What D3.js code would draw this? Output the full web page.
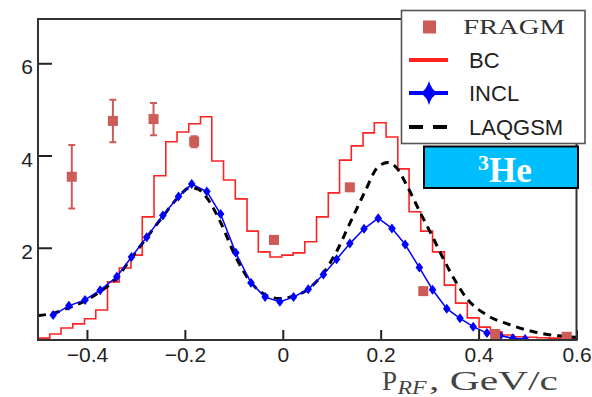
<!DOCTYPE html>
<html><head><meta charset="utf-8">
<script src="https://cdn.jsdelivr.net/npm/d3@7"></script>
<style>body{margin:0;background:#fff}svg{display:block}</style>
</head><body>
<svg id="c" width="592" height="397"></svg>
<script>
// ---- data ----
const xTicks = [-0.4, -0.2, 0, 0.2, 0.4, 0.6];
const yTicks = [2, 4, 6];

// BC histogram: bin edges and bin heights
const bcEdges = [-0.500,-0.476,-0.453,-0.429,-0.405,-0.382,-0.358,-0.334,-0.310,-0.287,
  -0.263,-0.239,-0.216,-0.192,-0.168,-0.145,-0.121,-0.097,-0.073,-0.050,
  -0.026,-0.002,0.021,0.045,0.069,0.093,0.116,0.140,0.164,0.187,
  0.211,0.235,0.258,0.282,0.306,0.330,0.353,0.377,0.401,0.424,
  0.448,0.472,0.495,0.519,0.543,0.567,0.600];
const bcValues = [0.04,0.13,0.26,0.35,0.46,0.65,1.26,1.56,1.84,2.67,
  3.56,4.30,4.51,4.69,4.84,3.88,3.47,3.06,2.36,1.91,
  1.80,1.84,1.89,2.13,2.67,3.19,3.90,4.21,4.49,4.71,
  4.40,3.71,2.78,2.36,1.91,1.19,0.80,0.48,0.28,0.17,
  0.11,0.07,0.06,0.05,0.04,0.03];

// INCL
const inclX = [-0.469,-0.437,-0.404,-0.373,-0.339,-0.309,-0.278,-0.245,-0.213,-0.186,
  -0.155,-0.127,-0.096,-0.065,-0.036,-0.006,0.022,0.052,0.083,0.110,
  0.137,0.166,0.195,0.223,0.250,0.279,0.306,0.335,0.362,0.389,
  0.417,0.444,0.470,0.495];
const inclY = [0.54,0.74,0.87,1.08,1.37,1.80,2.23,2.70,3.11,3.38,
  3.22,2.73,1.89,1.24,0.93,0.83,0.93,1.10,1.42,1.75,
  2.09,2.41,2.64,2.42,2.07,1.57,1.09,0.68,0.47,0.29,
  0.15,0.09,0.04,0.02];

// LAQGSM
const laqX = [-0.500,-0.469,-0.437,-0.404,-0.373,-0.339,-0.309,-0.278,-0.245,-0.213,
  -0.190,-0.175,-0.155,-0.127,-0.096,-0.065,-0.036,-0.006,0.022,0.049,
  0.083,0.110,0.137,0.168,0.192,0.215,0.235,0.253,0.280,0.305,
  0.330,0.345,0.376,0.417,0.464,0.512,0.563,0.600];
const laqY = [0.53,0.58,0.70,0.85,1.05,1.35,1.78,2.22,2.68,3.10,
  3.30,3.28,3.08,2.55,1.80,1.25,0.98,0.90,0.95,1.08,
  1.45,1.92,2.53,3.22,3.72,3.85,3.70,3.36,2.78,2.26,
  1.72,1.42,0.90,0.54,0.33,0.18,0.09,0.06];

// FRAGM data with errors
const fragmX = [-0.431,-0.347,-0.264,-0.181,-0.018,0.137,0.287,0.434,0.580];
const fragmY = [3.54,4.75,4.79,4.30,2.17,3.31,1.06,0.13,0.07];
const fragmErr = [0.69,0.46,0.35,0.12,0.08,0.05,0.05,0.03,0.03];

const legendLabels = ["FRAGM","BC","INCL","LAQGSM"];

// ---- drawing ----
const svg = d3.select("#c");
const x = d3.scaleLinear().domain([-0.5, 0.6]).range([38, 576.5]);
const y = d3.scaleLinear().domain([0, 6.96]).range([340, 19]);
const fragColor = "#cd5c58";

svg.append("defs").append("clipPath").attr("id","clip")
  .append("rect").attr("x",38).attr("y",19).attr("width",538.5).attr("height",321);

const plot = svg.append("g").attr("clip-path","url(#clip)");

// BC histogram
const bcPts = bcValues.map((v,i)=>[bcEdges[i], v]);
bcPts.push([bcEdges[bcEdges.length-1], bcValues[bcValues.length-1]]);
plot.append("path")
  .attr("d", d3.line().x(d=>x(d[0])).y(d=>y(d[1])).curve(d3.curveStepAfter)(bcPts))
  .attr("fill","none").attr("stroke","#ff2222").attr("stroke-width",1.6);

// LAQGSM dashed
plot.append("path")
  .attr("d", d3.line().x((d,i)=>x(laqX[i])).y(d=>y(d)).curve(d3.curveMonotoneX)(laqY))
  .attr("fill","none").attr("stroke","#000").attr("stroke-width",3)
  .attr("stroke-dasharray","8,6");

// INCL
plot.append("path")
  .attr("d", d3.line().x((d,i)=>x(inclX[i])).y(d=>y(d))(inclY))
  .attr("fill","none").attr("stroke","#0000ff").attr("stroke-width",1.5);
plot.selectAll("path.dia").data(inclY).enter().append("path")
  .attr("class","dia")
  .attr("transform",(d,i)=>`translate(${x(inclX[i])},${y(d)})`)
  .attr("d","M0,-5L3.8,0L0,5L-3.8,0Z")
  .attr("fill","#0000ff");

// FRAGM
const fr = plot.selectAll("g.fr").data(fragmY).enter().append("g").attr("class","fr");
fr.append("line")
  .attr("x1",(d,i)=>x(fragmX[i])).attr("x2",(d,i)=>x(fragmX[i]))
  .attr("y1",(d,i)=>y(d+fragmErr[i])).attr("y2",(d,i)=>y(d-fragmErr[i]))
  .attr("stroke",fragColor).attr("stroke-width",2);
fr.append("line")
  .attr("x1",(d,i)=>x(fragmX[i])-3.5).attr("x2",(d,i)=>x(fragmX[i])+3.5)
  .attr("y1",(d,i)=>y(d+fragmErr[i])).attr("y2",(d,i)=>y(d+fragmErr[i]))
  .attr("stroke",fragColor).attr("stroke-width",2);
fr.append("line")
  .attr("x1",(d,i)=>x(fragmX[i])-3.5).attr("x2",(d,i)=>x(fragmX[i])+3.5)
  .attr("y1",(d,i)=>y(d-fragmErr[i])).attr("y2",(d,i)=>y(d-fragmErr[i]))
  .attr("stroke",fragColor).attr("stroke-width",2);
fr.append("rect")
  .attr("x",(d,i)=>x(fragmX[i])-5).attr("y",d=>y(d)-5)
  .attr("width",10).attr("height",10).attr("fill",fragColor);

// Axes
const xAxis = svg.append("g").attr("transform","translate(0,340)")
  .call(d3.axisBottom(x).tickValues(xTicks).tickSize(-10).tickPadding(7)
    .tickFormat(d=> d===0 ? "0" : d3.format(".1f")(d)));
const yAxis = svg.append("g").attr("transform","translate(38,0)")
  .call(d3.axisLeft(y).tickValues(yTicks).tickSize(-14).tickPadding(5)
    .tickFormat(d3.format("d")));
[xAxis,yAxis].forEach(a=>{
  a.select(".domain").remove();
  a.selectAll(".tick line").attr("stroke","#222").attr("stroke-width",2);
  a.selectAll(".tick text").attr("fill","#222")
    .style("font-family","'Liberation Sans', Arial, sans-serif").style("font-size","21px");
});
yAxis.selectAll(".tick text").attr("dy","0.5em");

// Frame
svg.append("rect").attr("x",38).attr("y",19).attr("width",538.5).attr("height",321)
  .attr("fill","none").attr("stroke","#333").attr("stroke-width",2);

// Legend
const lg = svg.append("g");
lg.append("rect").attr("x",401.5).attr("y",10.5).attr("width",183.5).attr("height",133)
  .attr("fill","#fff").attr("stroke","#555").attr("stroke-width",1.6);
const rowY = [27, 60, 93, 127];
lg.append("rect").attr("x",423).attr("y",rowY[0]-6.5).attr("width",13).attr("height",13).attr("fill",fragColor);
lg.append("line").attr("x1",409).attr("x2",448).attr("y1",rowY[1]).attr("y2",rowY[1])
  .attr("stroke","#ff2222").attr("stroke-width",4);
lg.append("line").attr("x1",409).attr("x2",448).attr("y1",rowY[2]).attr("y2",rowY[2])
  .attr("stroke","#0000ff").attr("stroke-width",4);
lg.append("path").attr("transform",`translate(429,${rowY[2]})`)
  .attr("d","M0,-12Q2.5,-3 9,0Q2.5,3 0,12Q-2.5,3 -9,0Q-2.5,-3 0,-12Z").attr("fill","#0000ff");
lg.append("line").attr("x1",409).attr("x2",448).attr("y1",rowY[3]).attr("y2",rowY[3])
  .attr("stroke","#000").attr("stroke-width",4).attr("stroke-dasharray","14,10");
lg.append("text").attr("x",463).attr("y",rowY[0]+7).text(legendLabels[0])
  .attr("textLength",102).attr("lengthAdjust","spacingAndGlyphs")
  .style("font-family","'Liberation Serif', 'Times New Roman', serif").style("font-size","20px").attr("fill","#333");
lg.selectAll("text.ls").data(legendLabels.slice(1)).enter().append("text").attr("class","ls")
  .attr("x",469).attr("y",(d,i)=>rowY[i+1]+8).text(d=>d)
  .style("font-family","'Liberation Sans', Arial, sans-serif").style("font-size","22px").attr("fill","#222");

// 3He box
svg.append("rect").attr("x",424).attr("y",146.5).attr("width",154).attr("height",41.5)
  .attr("fill","#00bfff").attr("stroke","#000").attr("stroke-width",2);
const he = svg.append("text").attr("x",505).attr("y",182).attr("text-anchor","middle")
  .style("font-family","'Liberation Serif', 'Times New Roman', serif").style("font-weight","bold")
  .attr("fill","#fff");
he.append("tspan").text("3").style("font-size","22px").attr("dy","-12");
he.append("tspan").text("He").style("font-size","35px").attr("dy","12");

// X label
const serif = "'Liberation Serif', 'Times New Roman', serif";
svg.append("text").attr("x",382).attr("y",390).text("P")
  .style("font-family",serif).style("font-size","27px").attr("fill","#444");
svg.append("text").attr("x",397.5).attr("y",394).text("RF")
  .attr("textLength",29).attr("lengthAdjust","spacingAndGlyphs")
  .style("font-family",serif).style("font-style","italic").style("font-size","18px").attr("fill","#444");
svg.append("text").attr("x",429).attr("y",390).text(", GeV/c")
  .attr("textLength",129).attr("lengthAdjust","spacingAndGlyphs")
  .style("font-family",serif).style("font-size","27px").attr("fill","#444");
</script>
</body></html>
